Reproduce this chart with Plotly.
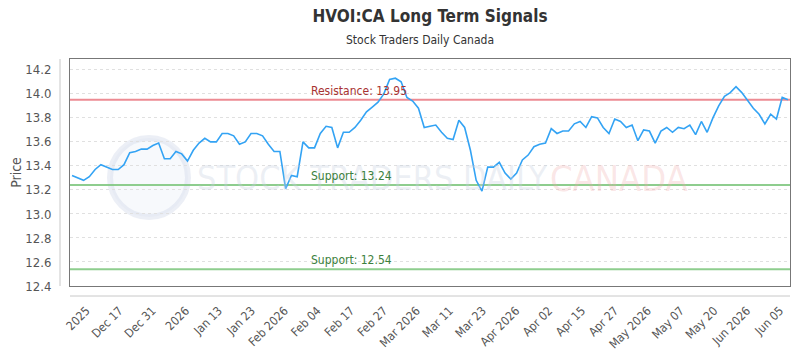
import plotly.graph_objects as go

# ---- data ----
prices = [
    13.32, 13.30, 13.28, 13.31, 13.37, 13.41, 13.39, 13.37, 13.37, 13.41,
    13.51, 13.52, 13.54, 13.54, 13.57, 13.59, 13.46, 13.46, 13.52, 13.50,
    13.44, 13.53, 13.59, 13.63, 13.60, 13.60, 13.67, 13.67, 13.65, 13.58,
    13.60, 13.67, 13.67,
    13.65, 13.58, 13.52, 13.52, 13.21, 13.32, 13.31, 13.60, 13.55, 13.55,
    13.67, 13.73, 13.72, 13.55, 13.68, 13.68, 13.72, 13.78, 13.85, 13.89,
    13.93, 14.00, 14.12, 14.13, 14.10, 13.97, 13.94, 13.88, 13.72, 13.73,
    13.74, 13.68, 13.63, 13.62, 13.78, 13.72, 13.53, 13.28, 13.19, 13.39,
    13.39, 13.43, 13.34, 13.29, 13.34, 13.45, 13.49, 13.56, 13.58, 13.59,
    13.71, 13.67, 13.69, 13.69, 13.75, 13.77, 13.72, 13.81, 13.80, 13.72,
    13.67,
    13.79, 13.77, 13.72, 13.74, 13.61, 13.70, 13.69, 13.59, 13.69, 13.72,
    13.68, 13.72, 13.71, 13.74, 13.66, 13.77, 13.68, 13.80, 13.90, 13.98,
    14.01, 14.06, 14.01, 13.94, 13.88, 13.83, 13.75, 13.83, 13.79, 13.97,
    13.95,
]
x_index = list(range(len(prices)))

tick_labels = ["2025", "Dec 17", "Dec 31", "2026", "Jan 13", "Jan 23", "Feb 2026",
               "Feb 04", "Feb 17", "Feb 27", "Mar 2026", "Mar 11", "Mar 23",
               "Apr 2026", "Apr 02", "Apr 15", "Apr 27", "May 2026", "May 07",
               "May 20", "Jun 2026", "Jun 05"]
tick_positions = [2.5, 8.2, 13.9, 19.7, 25.4, 31.1, 36.8, 42.5, 48.3, 54.0, 59.7,
                  65.4, 71.1, 76.9, 82.6, 88.3, 94.0, 99.7, 105.4, 111.2, 116.9, 122.6]

resistance = 13.95
supports = [13.24, 12.54]

y_ticks = [12.4, 12.6, 12.8, 13.0, 13.2, 13.4, 13.6, 13.8, 14.0, 14.2]

FONT = "DejaVu Sans Condensed, Roboto, Arial, sans-serif"
TFONT = "DejaVu Sans Condensed, Roboto, Arial, sans-serif"

fig = go.Figure()

fig.add_trace(go.Scatter(
    x=x_index, y=prices, mode="lines",
    line=dict(color="#33a3f4", width=1.6),
    hoverinfo="skip", showlegend=False,
))

# watermark
fig.add_shape(type="circle", xref="paper", yref="paper",
              x0=(110 - 70) / 720, x1=(188 - 70) / 720,
              y0=(286 - 217) / 227, y1=(286 - 138) / 227,
              line=dict(color="rgba(200,210,230,0.35)", width=6),
              fillcolor="rgba(225,232,242,0.25)", layer="below")
fig.add_annotation(xref="paper", yref="paper", x=(195 - 70) / 720, y=(286 - 178) / 227,
                   xanchor="left", yanchor="middle", showarrow=False,
                   text="STOCK TRADERS DAILY",
                   font=dict(family=TFONT, size=34, color="rgba(200,210,225,0.35)"))
fig.add_annotation(xref="paper", yref="paper", x=(548 - 70) / 720, y=(286 - 178) / 227,
                   xanchor="left", yanchor="middle", showarrow=False,
                   text="CANADA",
                   font=dict(family=TFONT, size=36, color="rgba(240,170,170,0.3)"))

# resistance / support lines
fig.add_shape(type="line", xref="paper", x0=0, x1=1, yref="y",
              y0=resistance, y1=resistance,
              line=dict(color="rgba(232,110,120,0.8)", width=2), layer="below")
fig.add_annotation(xref="paper", x=0.332, yref="y", y=resistance,
                   text=f"Resistance: {resistance:.2f}", showarrow=False,
                   yanchor="bottom", yshift=0,
                   font=dict(family=FONT, size=12, color="#a83232"))
for s in supports:
    fig.add_shape(type="line", xref="paper", x0=0, x1=1, yref="y",
                  y0=s, y1=s,
                  line=dict(color="rgba(130,200,130,0.9)", width=2), layer="below")
    fig.add_annotation(xref="paper", x=0.332, yref="y", y=s,
                       text=f"Support: {s:.2f}", showarrow=False,
                       yanchor="bottom", yshift=0,
                       font=dict(family=FONT, size=12, color="#3c7f3c"))

# extra axis lines (offset) like the reference
fig.add_shape(type="line", xref="paper", yref="paper",
              x0=-10 / 720, x1=-10 / 720, y0=0, y1=1,
              line=dict(color="#c8c8c8", width=1))
fig.add_shape(type="line", xref="paper", yref="paper",
              x0=0, x1=1, y0=-10 / 227, y1=-10 / 227,
              line=dict(color="#c8c8c8", width=1))

# subtitle
fig.add_annotation(xref="paper", yref="paper", x=0.5 - 10 / 720, y=1 + 19 / 227,
                   xanchor="center", yanchor="middle", showarrow=False,
                   text="Stock Traders Daily Canada",
                   font=dict(family=TFONT, size=12, color="#333333"))

fig.update_layout(
    width=800, height=350,
    margin=dict(l=70, r=10, t=59, b=64),
    paper_bgcolor="white", plot_bgcolor="white",
    font=dict(family=FONT, color="#555555"),
    title=dict(text="<b>HVOI:CA Long Term Signals</b>",
               x=0.5, xanchor="center", xref="paper", y=1 - 16 / 350, yanchor="middle",
               font=dict(family=TFONT, size=17, color="#333333")),
    xaxis=dict(range=[-0.35, len(prices) - 1 + 0.35],
               tickmode="array", tickvals=tick_positions, ticktext=tick_labels,
               tickangle=-45, showgrid=False, zeroline=False, automargin=False,
               showline=True, linecolor="#777777", mirror=True, ticks="",
               ticklabelstandoff=12,
               tickfont=dict(family=FONT, size=12, color="#555555")),
    yaxis=dict(range=[12.4, 14.29], tickmode="array", tickvals=y_ticks,
               ticktext=[f"{v:.1f}" for v in y_ticks], automargin=False,
               showgrid=True, gridcolor="#e0e0e0", griddash="dot", zeroline=False,
               showline=True, linecolor="#777777", mirror=True, ticks="",
               ticklabelstandoff=15,
               title=dict(text="Price", font=dict(family=FONT, size=14, color="#555555"),
                          standoff=0),
               tickfont=dict(family=FONT, size=13, color="#555555")),
)

fig.write_html("out.html")
